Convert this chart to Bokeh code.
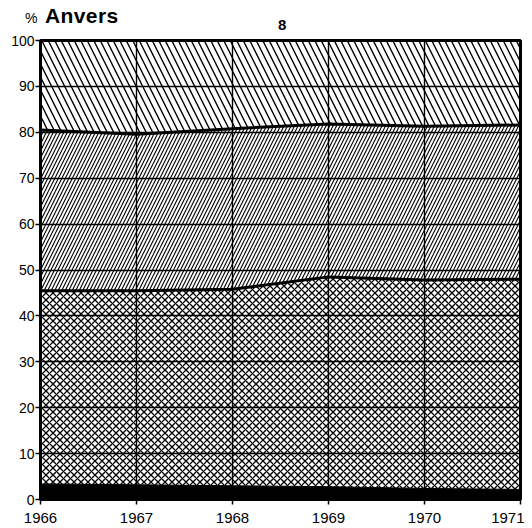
from bokeh.plotting import figure
from bokeh.models import FixedTicker, ColumnDataSource, Div
from bokeh.layouts import column
from bokeh.embed import file_html
from bokeh.resources import INLINE

years = [1966, 1967, 1968, 1969, 1970, 1971]
# cumulative boundaries (%)
black_top = [3.4, 3.2, 3.0, 2.8, 2.4, 2.2]
cross_top = [45.5, 45.5, 45.8, 48.5, 47.8, 48.0]
fwd_top = [80.5, 79.6, 80.8, 81.8, 81.3, 81.6]
total = [100, 100, 100, 100, 100, 100]
zero = [0, 0, 0, 0, 0, 0]
y_ticks = [0, 10, 20, 30, 40, 50, 60, 70, 80, 90, 100]
title_unit = "%"
title_text = "Anvers"
panel_no = "8"

FONT = "Liberation Sans"

src = ColumnDataSource(dict(x=years, z=zero, b=black_top, c=cross_top, f=fwd_top, t=total))

p = figure(width=524, height=496, x_range=(1966, 1971), y_range=(0, 100),
           output_backend="svg", toolbar_location=None,
           min_border_left=40, min_border_right=4, min_border_top=10, min_border_bottom=27)
p.background_fill_color = "white"
p.border_fill_color = "white"

p.varea(x="x", y1="z", y2="b", source=src, fill_color="black")
p.varea(x="x", y1="b", y2="c", source=src, fill_alpha=0, hatch_pattern="x",
        hatch_color="black", hatch_scale=7, hatch_weight=1.3)
p.varea(x="x", y1="c", y2="f", source=src, fill_alpha=0, hatch_pattern="/",
        hatch_color="black", hatch_scale=7, hatch_weight=1.1)
p.varea(x="x", y1="f", y2="t", source=src, fill_alpha=0, hatch_pattern="\\",
        hatch_color="black", hatch_scale=13, hatch_weight=1.4)
p.line(x="x", y="c", source=src, line_color="black", line_width=3)
p.line(x="x", y="f", source=src, line_color="black", line_width=3)
p.line(x="x", y="b", source=src, line_color="black", line_width=1)

p.xgrid.ticker = FixedTicker(ticks=years)
p.ygrid.ticker = FixedTicker(ticks=y_ticks)
for g in (p.xgrid, p.ygrid):
    g.grid_line_color = "black"
    g.grid_line_width = 1.4
    g.level = "glyph"

p.xaxis.ticker = FixedTicker(ticks=years)
p.yaxis.ticker = FixedTicker(ticks=y_ticks)
for ax in (p.xaxis, p.yaxis):
    ax.axis_line_color = "black"
    ax.axis_line_width = 3
    ax.major_tick_line_color = "black"
    ax.major_tick_line_width = 1.5
    ax.major_tick_out = 5
    ax.major_tick_in = 0
    ax.minor_tick_line_color = None
    ax.major_label_text_font = FONT
    ax.major_label_text_color = "black"
p.yaxis.major_label_text_font_size = "14px"
p.xaxis.major_label_text_font_size = "15px"
p.yaxis.major_label_standoff = 1
p.xaxis.major_label_standoff = 8

p.outline_line_color = "black"
p.outline_line_width = 3
p.outline_line_alpha = 1

html = (
    f'<div style="position:relative;width:524px;height:30px;font-family:\'{FONT}\';color:black;">'
    f'<span style="position:absolute;left:25px;top:11px;font-size:14px;line-height:1;">{title_unit}</span>'
    f'<span style="position:absolute;left:45px;top:5px;font-size:21px;font-weight:bold;line-height:1;letter-spacing:0.4px;">{title_text}</span>'
    f'<span style="position:absolute;left:278px;top:17px;font-size:15px;font-weight:bold;line-height:1;">{panel_no}</span>'
    '</div>'
)
header = Div(text=html, width=524, height=30, margin=0)

layout = column(header, p, spacing=0, margin=0)
open("out.html", "w").write(file_html(layout, INLINE))
